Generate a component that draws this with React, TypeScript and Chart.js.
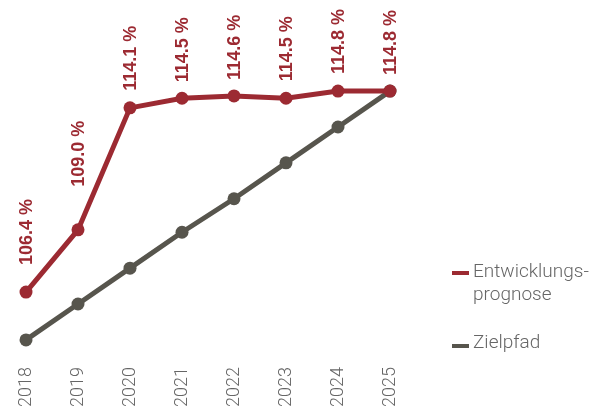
import React, { useEffect, useRef } from "react";
import { Chart, registerables } from "chart.js";

Chart.register(...registerables);

const years = ["2018", "2019", "2020", "2021", "2022", "2023", "2024", "2025"];
const prognose = [106.4, 109.0, 114.1, 114.5, 114.6, 114.5, 114.8, 114.8];
const zielpfad = [104.4, 105.9, 107.4, 108.9, 110.3, 111.8, 113.3, 114.8];
const seriesNames = ["Entwicklungs-\nprognose", "Zielpfad"];

const RED = "#9c2a32";
const GRAY = "#57554d";
const TEXT = "#666666";
const FONT = "Roboto, 'Liberation Sans', Arial, sans-serif";
const BOLD_FONT = "'Liberation Sans', Arial, sans-serif";

const valueLabelPlugin = {
  id: "valueLabels",
  afterDatasetsDraw(chart: any, _args: any, opts: any) {
    const meta = chart.getDatasetMeta(0);
    const data = chart.data.datasets[0].data as number[];
    const ctx = chart.ctx as CanvasRenderingContext2D;
    ctx.save();
    ctx.font = `bold ${opts.size}px ${opts.family}`;
    ctx.fillStyle = opts.color;
    ctx.textAlign = "left";
    ctx.textBaseline = "middle";
    meta.data.forEach((pt: any, i: number) => {
      const gap = opts.gaps[i] ?? 16;
      ctx.save();
      ctx.translate(pt.x + 1.5, pt.y - gap);
      ctx.rotate(-Math.PI / 2);
      ctx.fillText(data[i].toFixed(1) + " %", 0, 0);
      ctx.restore();
    });
    ctx.restore();
  },
};

export default function App() {
  const ref = useRef<HTMLCanvasElement | null>(null);

  useEffect(() => {
    if (!ref.current) return;
    const chart = new Chart(ref.current, {
      type: "line",
      data: {
        labels: years,
        datasets: [
          {
            label: seriesNames[0],
            data: prognose,
            borderColor: RED,
            backgroundColor: RED,
            borderWidth: 5,
            pointRadius: 6.5,
            pointBackgroundColor: RED,
            pointBorderWidth: 0,
            tension: 0,
            clip: false as any,
          },
          {
            label: seriesNames[1],
            data: zielpfad,
            borderColor: GRAY,
            backgroundColor: GRAY,
            borderWidth: 5,
            pointRadius: 6.5,
            pointBackgroundColor: GRAY,
            pointBorderWidth: 0,
            tension: 0,
            clip: false as any,
          },
        ],
      },
      options: {
        responsive: false,
        maintainAspectRatio: false,
        animation: false,
        layout: { padding: { left: 26, right: 208, top: 10, bottom: 0 } },
        plugins: {
          legend: { display: false },
          tooltip: { enabled: false },
          valueLabels: {
            size: 18,
            family: BOLD_FONT,
            color: RED,
            gaps: [27, 43, 17, 16, 16, 17, 17, 16],
          },
        } as any,
        scales: {
          x: {
            offset: false,
            grid: { display: false, drawTicks: false },
            border: { display: false },
            ticks: {
              minRotation: 90,
              maxRotation: 90,
              autoSkip: false,
              padding: 7,
              color: TEXT,
              font: { family: FONT, size: 18, weight: 300 as any },
            },
            afterFit: (scale: any) => {
              scale.height = 50;
            },
          },
          y: {
            display: false,
            min: 103.56,
            max: 118.19,
          },
        },
      },
      plugins: [valueLabelPlugin],
    });
    return () => chart.destroy();
  }, []);

  const legendText: React.CSSProperties = {
    position: "absolute",
    left: 473,
    fontFamily: FONT,
    fontWeight: 300,
    fontSize: 19,
    lineHeight: "23px",
    color: TEXT,
    whiteSpace: "pre",
  };

  return (
    <div style={{ position: "relative", width: 598, height: 410 }}>
      <style>{"body{margin:0}"}</style>
      <canvas ref={ref} width={598} height={410} style={{ display: "block" }} />
      <div style={{ position: "absolute", left: 452, top: 270.5, width: 17, height: 4, background: RED }} />
      <div style={{ ...legendText, top: 259 }}>{seriesNames[0]}</div>
      <div style={{ position: "absolute", left: 452, top: 344, width: 17, height: 4, background: GRAY }} />
      <div style={{ ...legendText, top: 330 }}>{seriesNames[1]}</div>
    </div>
  );
}
